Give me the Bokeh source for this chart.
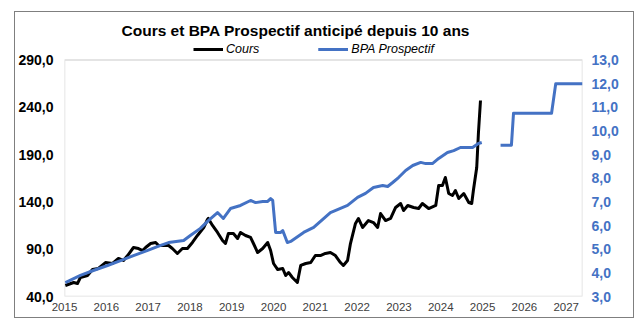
import numpy as np
from bokeh.plotting import figure
from bokeh.models import LinearAxis, Range1d, FixedTicker, Legend, LegendItem, BoxAnnotation
from bokeh.embed import file_html
from bokeh.resources import INLINE

# ---- data ----
cours_year = [2015.02, 2015.22, 2015.31, 2015.38, 2015.55, 2015.67, 2015.81, 2015.98, 2016.15, 2016.29,
              2016.41, 2016.51, 2016.65, 2016.77, 2016.87, 2016.94, 2017.06, 2017.18, 2017.25, 2017.37,
              2017.49, 2017.58, 2017.70, 2017.82, 2017.94, 2018.06, 2018.18, 2018.33, 2018.42, 2018.44,
              2018.54, 2018.66, 2018.78, 2018.85, 2018.92, 2019.04, 2019.14, 2019.21, 2019.33, 2019.45,
              2019.52, 2019.62, 2019.74, 2019.86, 2019.93, 2020.00, 2020.10, 2020.22, 2020.29, 2020.36,
              2020.45, 2020.57, 2020.65, 2020.77, 2020.89, 2021.00, 2021.12, 2021.24, 2021.36, 2021.48,
              2021.60, 2021.67, 2021.77, 2021.84, 2021.96, 2022.03, 2022.13, 2022.27, 2022.39, 2022.49,
              2022.56, 2022.68, 2022.80, 2022.92, 2023.04, 2023.11, 2023.21, 2023.35, 2023.47, 2023.56,
              2023.71, 2023.88, 2023.95, 2024.04, 2024.11, 2024.19, 2024.28, 2024.35, 2024.43, 2024.55,
              2024.67, 2024.74, 2024.78, 2024.86, 2024.90, 2024.95]
cours = [51.6, 54.8, 53.7, 60.1, 62.2, 68.5, 69.6, 75.9, 74.9, 80.2,
         78.1, 83.3, 91.8, 90.7, 88.6, 91.8, 96.0, 97.1, 93.9, 93.9,
         93.9, 90.7, 85.5, 90.7, 90.7, 97.1, 104.5, 112.9, 121.4, 122.5,
         115.1, 107.7, 99.2, 96.0, 106.6, 106.6, 101.3, 107.7, 104.5, 102.4,
         96.0, 86.5, 90.7, 97.1, 88.6, 74.9, 68.5, 69.6, 62.2, 65.4,
         60.1, 54.8, 72.8, 74.9, 75.9, 83.3, 83.3, 85.5, 86.5, 83.3,
         75.9, 72.8, 78.1, 96.0, 117.2, 122.5, 113.0, 120.3, 118.2, 113.0,
         127.7, 120.3, 122.5, 134.1, 138.3, 130.9, 136.2, 134.1, 133.0, 138.3,
         133.0, 136.2, 157.3, 157.3, 165.8, 148.9, 146.8, 152.1, 143.6, 148.9,
         139.4, 138.3, 152.1, 176.4, 212.3, 247.2]

bpa_year = [2015.02, 2015.38, 2015.69, 2016.03, 2016.34, 2016.65, 2016.99, 2017.30, 2017.49, 2017.85,
            2018.01, 2018.25, 2018.44, 2018.66, 2018.80, 2018.97, 2019.21, 2019.45, 2019.57, 2019.74,
            2019.86, 2019.93, 2019.98, 2020.05, 2020.17, 2020.22, 2020.33, 2020.41, 2020.72, 2020.96,
            2021.36, 2021.77, 2022.01, 2022.20, 2022.39, 2022.61, 2022.73, 2022.85, 2022.99, 2023.16,
            2023.33, 2023.52, 2023.64, 2023.80, 2023.95, 2024.16, 2024.31, 2024.47, 2024.64, 2024.76,
            2024.90, 2024.98]
bpa = [3.59, 3.89, 4.10, 4.31, 4.52, 4.73, 4.95, 5.16, 5.28, 5.37,
       5.58, 5.88, 6.21, 6.55, 6.30, 6.72, 6.85, 7.06, 6.97, 7.02,
       7.02, 7.14, 7.06, 5.71, 5.71, 5.79, 5.28, 5.33, 5.71, 5.92,
       6.55, 6.85, 7.19, 7.36, 7.61, 7.69, 7.65, 7.82, 8.03, 8.33,
       8.54, 8.67, 8.62, 8.62, 8.84, 9.09, 9.17, 9.30, 9.30, 9.30,
       9.47, 9.51]

bpa_fc_year = [2025.43, 2025.69, 2025.74, 2026.65, 2026.75, 2027.39]
bpa_fc = [9.4, 9.4, 10.75, 10.75, 12.0, 12.0]

years = list(range(2015, 2028))
year_labels = [str(y) for y in years]
left_ticks = [40, 90, 140, 190, 240, 290]
left_labels = ["40,0", "90,0", "140,0", "190,0", "240,0", "290,0"]
right_ticks = [3, 4, 5, 6, 7, 8, 9, 10, 11, 12, 13]
right_labels = ["3,0", "4,0", "5,0", "6,0", "7,0", "8,0", "9,0", "10,0", "11,0", "12,0", "13,0"]

BLUE = "#4472C4"
FONT = "Liberation Sans"

# layout geometry (pixels): plotted box height and extra room above it for the legend
BOX_PX = 236.5
LEGEND_ROOM_PX = 21.5
L_LO, L_HI = 40, 290
R_LO, R_HI = 3, 13
l_top = L_HI + (L_HI - L_LO) * LEGEND_ROOM_PX / BOX_PX
r_top = R_HI + (R_HI - R_LO) * LEGEND_ROOM_PX / BOX_PX

p = figure(width=618, height=305,
           x_range=Range1d(2015, 2027.39), y_range=Range1d(L_LO, l_top),
           output_backend="svg", toolbar_location=None,
           min_border_left=49, min_border_right=51, min_border_top=26, min_border_bottom=21)
p.margin = (12, 7, 14, 15)
p.styles = {"outline": "1px solid #7f7f7f"}
p.extra_y_ranges = {"bpa": Range1d(R_LO, r_top)}

p.xgrid.visible = False
p.ygrid.visible = False
p.outline_line_color = None

# visible plot-area box (from 40 to 290 on the left scale)
box = BoxAnnotation(bottom=L_LO, top=L_HI, fill_alpha=0, line_color="#8c8c8c",
                    line_width=1.5, level="underlay")
p.add_layout(box)

p.title.text = "Cours et BPA Prospectif anticipé depuis 10 ans"
p.title.align = "left"
p.title.offset = 57
p.title.text_font = FONT
p.title.text_font_style = "bold"
p.title.text_font_size = "15.5px"
p.title.text_color = "#000000"
p.title.standoff = 0

r_cours = p.line(cours_year, cours, line_color="black", line_width=3, line_join="round")
r_bpa = p.line(bpa_year, bpa, line_color=BLUE, line_width=3, line_join="round", y_range_name="bpa")
r_fc = p.line(bpa_fc_year, bpa_fc, line_color=BLUE, line_width=3, line_join="round", y_range_name="bpa")

# axes
xa = p.xaxis[0]
xa.ticker = FixedTicker(ticks=years)
xa.major_label_overrides = dict(zip(years, year_labels))
ya = p.yaxis[0]
ya.ticker = FixedTicker(ticks=left_ticks)
ya.major_label_overrides = dict(zip(left_ticks, left_labels))
ra = LinearAxis(y_range_name="bpa", ticker=FixedTicker(ticks=right_ticks))
ra.major_label_overrides = dict(zip(right_ticks, right_labels))
p.add_layout(ra, "right")

for ax in (xa, ya, ra):
    ax.axis_line_color = None
    ax.major_tick_line_color = None
    ax.minor_tick_line_color = None
    ax.major_tick_out = 0
    ax.major_tick_in = 0
    ax.major_label_text_font = FONT
xa.major_label_text_font_size = "11.5px"
xa.major_label_text_color = "#404040"
xa.major_label_standoff = 6
ya.major_label_text_font_size = "14px"
ya.major_label_text_font_style = "bold"
ya.major_label_text_color = "#000000"
ya.major_label_standoff = 11
ra.major_label_text_font_size = "14px"
ra.major_label_text_font_style = "bold"
ra.major_label_text_color = BLUE
ra.major_label_standoff = 9

legend = Legend(items=[LegendItem(label="Cours", renderers=[r_cours]),
                       LegendItem(label="BPA Prospectif", renderers=[r_bpa, r_fc])],
                location=(129, 240), orientation="horizontal",
                padding=0, margin=0, spacing=59, glyph_width=30, glyph_height=14,
                label_standoff=3, border_line_color=None, background_fill_alpha=0,
                label_text_font=FONT, label_text_font_style="italic",
                label_text_font_size="12.5px", label_text_color="#000000",
                label_height=14)
p.add_layout(legend)

open("out.html", "w").write(file_html(p, INLINE))
